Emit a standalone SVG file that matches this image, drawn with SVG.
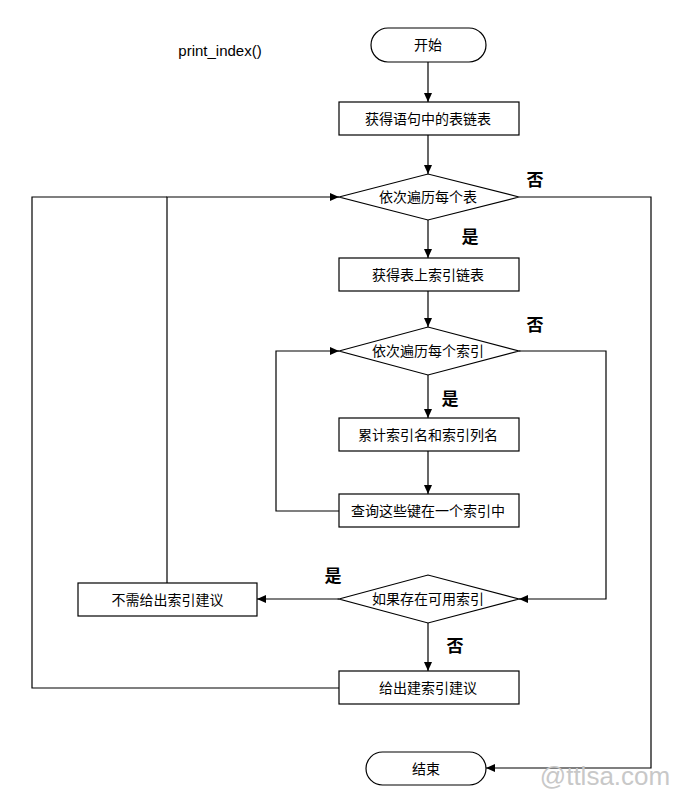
<svg xmlns="http://www.w3.org/2000/svg" width="683" height="796" viewBox="0 0 683 796">
<style>
.n{fill:#fff;stroke:#000;stroke-width:1.2}
.t{font-family:"Liberation Sans","Noto Sans CJK SC",sans-serif;font-size:14px;text-anchor:middle;dominant-baseline:central;fill:#000}
.l{font-family:"Liberation Sans","Noto Sans CJK SC",sans-serif;font-size:17px;font-weight:bold;text-anchor:middle;dominant-baseline:central}
.c{fill:none;stroke:#000;stroke-width:1.2;marker-end:url(#a)}
.p{fill:none;stroke:#000;stroke-width:1.2}
</style>
<defs><marker id="a" markerWidth="10" markerHeight="10" refX="9" refY="5" orient="auto" markerUnits="userSpaceOnUse"><path d="M0,1 L9,5 L0,9 Z" fill="#000"/></marker></defs>
<rect width="683" height="796" fill="#fff"/>
<text x="220" y="50" class="t" style="font-size:15px">print_index()</text>
<g id="connectors">
<path class="c" d="M428,62 V102"/>
<path class="c" d="M428,135 V174"/>
<path class="c" d="M428,220 V258"/>
<path class="c" d="M428,291 V327"/>
<path class="c" d="M428,375 V418"/>
<path class="c" d="M428,451 V494"/>
<path class="c" d="M339,511 H276 V351 H339"/>
<path class="c" d="M519,351 H606 V599 H519"/>
<path class="c" d="M519,197 H651 V768 H486"/>
<path class="c" d="M339,599 H257"/>
<path class="c" d="M167,583 V197 H339"/>
<path class="c" d="M428,623 V671"/>
<path class="p" d="M339,688 H32 V197 H167"/>
</g>
<g id="start"><rect class="n" x="371" y="28" width="115" height="34" rx="17"/><text class="t" x="428" y="45">开始</text></g>
<g id="b1"><rect class="n" x="339" y="102" width="180" height="33"/><text class="t" x="428" y="118.5">获得语句中的表链表</text></g>
<g id="d1"><polygon class="n" points="339,197 428,174 519,197 428,220"/><text class="t" x="428" y="197">依次遍历每个表</text></g>
<g id="b2"><rect class="n" x="339" y="258" width="180" height="33"/><text class="t" x="428" y="274.5">获得表上索引链表</text></g>
<g id="d2"><polygon class="n" points="339,351 428,327 519,351 428,375"/><text class="t" x="428" y="351">依次遍历每个索引</text></g>
<g id="b3"><rect class="n" x="339" y="418" width="180" height="33"/><text class="t" x="428" y="434.5">累计索引名和索引列名</text></g>
<g id="b4"><rect class="n" x="339" y="494" width="180" height="33"/><text class="t" x="428" y="510.5">查询这些键在一个索引中</text></g>
<g id="d3"><polygon class="n" points="339,599 428,575 519,599 428,623"/><text class="t" x="428" y="599">如果存在可用索引</text></g>
<g id="b5"><rect class="n" x="78" y="583" width="179" height="33"/><text class="t" x="167.5" y="599.5">不需给出索引建议</text></g>
<g id="b6"><rect class="n" x="339" y="671" width="180" height="33"/><text class="t" x="428" y="687.5">给出建索引建议</text></g>
<g id="end"><rect class="n" x="366" y="752" width="120" height="33" rx="16.5"/><text class="t" x="426" y="768.5">结束</text></g>
<text class="l" x="535" y="180">否</text>
<text class="l" x="470" y="237">是</text>
<text class="l" x="535" y="325">否</text>
<text class="l" x="450" y="399">是</text>
<text class="l" x="333" y="576">是</text>
<text class="l" x="455" y="646">否</text>
<text x="605" y="776" style="font-family:'Liberation Sans',sans-serif;font-size:26px;fill:#c8c8c8;text-anchor:middle;dominant-baseline:central">@ttlsa.com</text>
</svg>
